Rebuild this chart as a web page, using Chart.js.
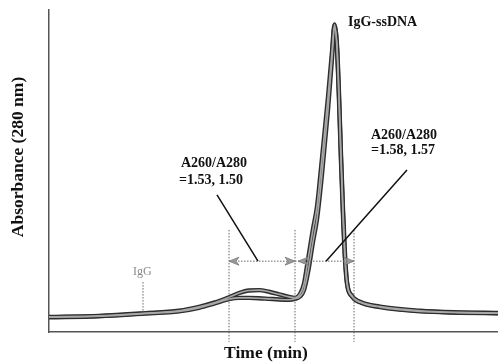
<!DOCTYPE html>
<html>
<head>
<meta charset="utf-8">
<script src="https://cdn.jsdelivr.net/npm/chart.js@4/dist/chart.umd.min.js"></script>
<style>
  html, body { margin: 0; padding: 0; background: #fff; }
  #wrap { width: 498px; height: 362px; position: relative; }
</style>
</head>
<body>
<div id="wrap"><canvas id="chrom"></canvas></div>
<script>
// elution time (min) and absorbance of the two runs
const times  = [0, 5, 9.5, 13, 15, 16.5, 18, 19, 20, 21, 22, 23, 24, 24.6, 25.1, 25.5, 25.9, 26.4, 26.8, 27.3, 27.9, 28.3, 28.55, 28.8, 29.0, 29.2, 29.4, 29.6, 29.8, 30.3, 31.1, 33.1, 37.1, 41, 44.9];
const runA   = [0.047, 0.050, 0.058, 0.066, 0.078, 0.091, 0.108, 0.121, 0.129, 0.130, 0.125, 0.117, 0.109, 0.106, 0.118, 0.150, 0.225, 0.320, 0.390, 0.540, 0.730, 0.870, 0.955, 0.880, 0.720, 0.530, 0.360, 0.225, 0.150, 0.110, 0.092, 0.077, 0.064, 0.060, 0.058];
const runB   = [0.046, 0.049, 0.057, 0.064, 0.075, 0.088, 0.102, 0.106, 0.106, 0.105, 0.103, 0.101, 0.100, 0.103, 0.110, 0.130, 0.185, 0.280, 0.350, 0.490, 0.690, 0.850, 0.945, 0.890, 0.740, 0.550, 0.380, 0.240, 0.155, 0.112, 0.094, 0.079, 0.066, 0.061, 0.059];

// collected fractions (min) and annotation anchors
const regionEdges = [18, 24.6, 30.5];
const ratioLeft  = ['A260/A280', '=1.53, 1.50'];
const ratioRight = ['A260/A280', '=1.58, 1.57'];
const peakLabel  = 'IgG-ssDNA';
const igGLabel   = 'IgG';

const serif = '"Liberation Serif", "Times New Roman", serif';
const toXY = vals => vals.map((v, i) => ({ x: times[i], y: v }));

const lineStyle = (data, color, width, order) => ({
  data: toXY(data),
  borderColor: color,
  borderWidth: width,
  pointRadius: 0,
  cubicInterpolationMode: 'monotone',
  fill: false,
  order: order,
});

const annot = {
  id: 'annot',
  afterDraw(chart) {
    const { ctx, scales: { x, y } } = chart;
    const px = v => x.getPixelForValue(v);
    const py = v => y.getPixelForValue(v);
    const arrowY = py(0.22);
    ctx.save();

    // fraction boundaries
    ctx.strokeStyle = '#666';
    ctx.lineWidth = 1;
    ctx.setLineDash([1.5, 1.5]);
    regionEdges.forEach(t => {
      ctx.beginPath();
      ctx.moveTo(px(t), py(0.317));
      ctx.lineTo(px(t), py(-0.031));
      ctx.stroke();
    });
    ctx.beginPath();
    ctx.moveTo(px(regionEdges[0]), arrowY);
    ctx.lineTo(px(regionEdges[2]), arrowY);
    ctx.stroke();

    // IgG marker
    ctx.beginPath();
    ctx.moveTo(px(9.4), py(0.155));
    ctx.lineTo(px(9.4), py(0.062));
    ctx.stroke();
    ctx.setLineDash([]);

    // arrow heads
    const head = (tip, dir) => {
      ctx.beginPath();
      ctx.moveTo(tip, arrowY);
      ctx.lineTo(tip - dir * 10, arrowY - 4);
      ctx.lineTo(tip - dir * 7, arrowY);
      ctx.lineTo(tip - dir * 10, arrowY + 4);
      ctx.closePath();
      ctx.fillStyle = '#9a9a9a';
      ctx.fill();
      ctx.strokeStyle = '#777';
      ctx.lineWidth = 0.8;
      ctx.stroke();
    };
    head(px(regionEdges[0]), -1);
    head(px(regionEdges[1]), 1);
    head(px(regionEdges[1]) + 3, -1);
    head(px(regionEdges[2]), 1);

    // leader lines
    ctx.strokeStyle = '#111';
    ctx.lineWidth = 1.5;
    ctx.beginPath();
    ctx.moveTo(px(16.8), py(0.426));
    ctx.lineTo(px(20.9), py(0.22));
    ctx.moveTo(px(35.8), py(0.503));
    ctx.lineTo(px(27.7), py(0.22));
    ctx.stroke();

    // labels
    ctx.fillStyle = '#111';
    ctx.textBaseline = 'middle';
    ctx.textAlign = 'left';
    ctx.font = 'bold 14px ' + serif;
    ctx.fillText(ratioLeft[0], px(13.2), py(0.524));
    ctx.fillText(ratioLeft[1], px(13.0), py(0.472));
    ctx.fillText(ratioRight[0], px(32.2), py(0.610));
    ctx.fillText(ratioRight[1], px(32.2), py(0.565));
    ctx.fillText(peakLabel, px(29.9), py(0.960));

    ctx.fillStyle = '#8a8a8a';
    ctx.font = '12px ' + serif;
    ctx.fillText(igGLabel, px(8.4), py(0.186));

    // axis titles
    ctx.fillStyle = '#111';
    ctx.font = 'bold 17.5px ' + serif;
    ctx.textAlign = 'center';
    ctx.fillText('Time (min)', 266, 353);
    ctx.translate(18, 157);
    ctx.rotate(-Math.PI / 2);
    ctx.fillText('Absorbance (280 nm)', 0, 0);
    ctx.restore();
  }
};

const chromCtx = document.getElementById('chrom');
window.myChrom = new Chart(chromCtx, {
  type: 'line',
  data: {
    datasets: [
      lineStyle(runA, '#2e2e2e', 4.4, 2),
      lineStyle(runB, '#2e2e2e', 4.4, 2),
      lineStyle(runA, '#a8a8a8', 1.6, 1),
      lineStyle(runB, '#a8a8a8', 1.6, 1),
    ],
  },
  options: {
    responsive: true,
    maintainAspectRatio: false,
    animation: false,
    layout: { padding: { left: 49, right: 0, top: 10, bottom: 30 } },
    plugins: { legend: { display: false }, tooltip: { enabled: false } },
    scales: {
      x: {
        type: 'linear', min: 0, max: 44.9,
        ticks: { display: false },
        grid: { display: false },
        border: { display: true, color: '#555', width: 1.5, dash: [2, 1] },
        afterFit: s => { s.height = 0; },
      },
      y: {
        min: 0, max: 1,
        ticks: { display: false },
        grid: { display: false },
        border: { display: true, color: '#555', width: 1.5, dash: [2, 1] },
        afterFit: s => { s.width = 0; },
      },
    },
  },
  plugins: [annot],
});
</script>
</body>
</html>
